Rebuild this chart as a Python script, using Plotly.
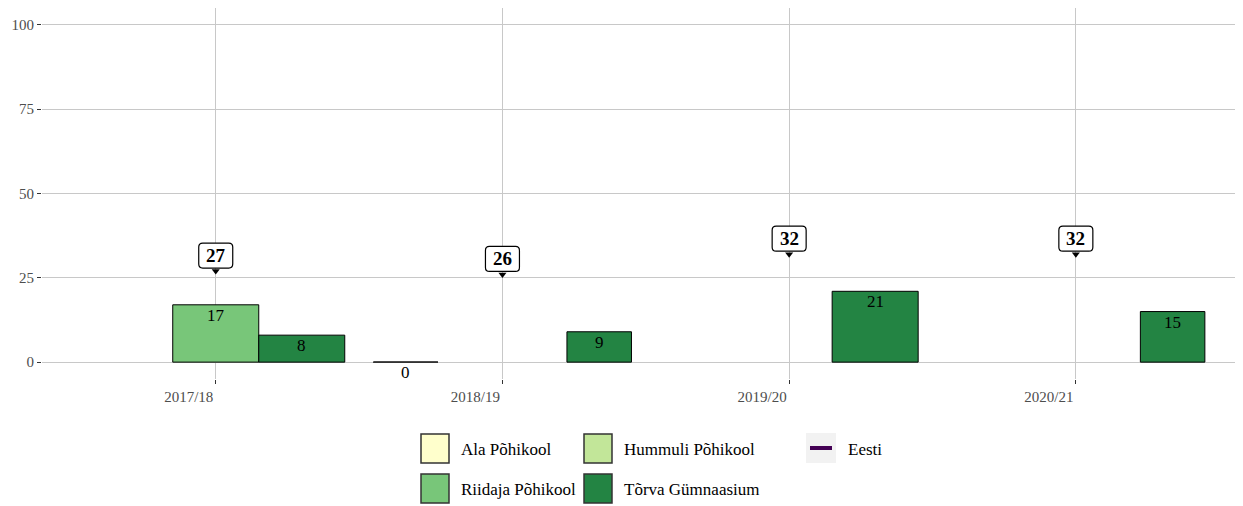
import math
import plotly.graph_objects as go

# ---- data ----
years = ["2017/18", "2018/19", "2019/20", "2020/21"]
NA = float("nan")  # row present but no value (occupies a dodge slot)
# None = no row for that year
ala = [None, 0, None, NA]
hummuli = [NA, NA, NA, NA]
riidaja = [17, NA, NA, NA]
torva = [8, 9, 21, 15]
eesti = [27, 26, 32, 32]

series_names = ["Ala Põhikool", "Hummuli Põhikool", "Riidaja Põhikool", "Tõrva Gümnaasium"]
series_values = [ala, hummuli, riidaja, torva]
series_colors = ["#FFFFCC", "#C2E699", "#78C679", "#238443"]
eesti_color = "#440154"

FONT = "Liberation Serif, Times New Roman, serif"
OFF = 8  # page body margin
W, H = 1243 - OFF, 506 - OFF
ML, MR, MT, MB = 42 - OFF, 0, 0, 127
PW, PH = W - ML - MR, H - MT - MB

fig = go.Figure()

dodge = 0.9
annotations = []
shapes = []
for s, (name, vals, col) in enumerate(zip(series_names, series_values, series_colors)):
    xs, ys, ws = [], [], []
    for j in range(len(years)):
        slots = [k for k in range(len(series_values)) if series_values[k][j] is not None]
        v = vals[j]
        if v is None or (isinstance(v, float) and math.isnan(v)):
            continue
        n = len(slots)
        k = slots.index(s)
        w = dodge / n
        cx = j - dodge / 2 + (k + 0.5) * w
        xs.append(cx); ys.append(v); ws.append(w)
        annotations.append(dict(x=cx, y=v, xref="x", yref="y", text=str(v), showarrow=False,
                                yanchor="top", yshift=1, font=dict(family=FONT, size=17, color="black")))
        if v == 0:
            # zero-height bar drawn as its outline
            fig.add_trace(go.Scatter(x=[cx - w / 2, cx + w / 2], y=[v, v], mode="lines",
                                     line=dict(color="#333333", width=1.5), showlegend=False,
                                     hoverinfo="skip"))
    fig.add_trace(go.Bar(x=xs, y=ys, width=ws, name=name,
                         marker=dict(color=col, line=dict(color="black", width=1)),
                         showlegend=False))

# Eesti markers and labels (rounded label boxes)
fig.add_trace(go.Scatter(x=list(range(len(years))), y=eesti, mode="markers", name="Eesti",
                         marker=dict(symbol="triangle-down", size=7, color="black"),
                         showlegend=False))

def rounded_box_path(x0, x1, y0, y1, r):
    return (f"M{x0 + r},{y0} L{x1 - r},{y0} Q{x1},{y0} {x1},{y0 + r} "
            f"L{x1},{y1 - r} Q{x1},{y1} {x1 - r},{y1} L{x0 + r},{y1} "
            f"Q{x0},{y1} {x0},{y1 - r} L{x0},{y0 + r} Q{x0},{y0} {x0 + r},{y0} Z")

for j, v in enumerate(eesti):
    shapes.append(dict(type="path", xref="x", yref="y", xsizemode="pixel", ysizemode="pixel",
                       xanchor=j, yanchor=v, path=rounded_box_path(-17, 17, 3, 28, 4),
                       fillcolor="white", line=dict(color="black", width=1.2), layer="above"))
    annotations.append(dict(x=j, y=v, xref="x", yref="y", text="<b>%d</b>" % v, showarrow=False,
                            yanchor="middle", yshift=15.5,
                            font=dict(family=FONT, size=19, color="black")))

# ---- manual legend (coordinates in reference page pixels) ----
def px(x):
    return (x - OFF - ML) / PW

def py(y):
    return (H - MB - (y - OFF)) / PH

legend_items = [
    (421, 434, series_names[0], series_colors[0]),
    (584, 434, series_names[1], series_colors[1]),
    (421, 474, series_names[2], series_colors[2]),
    (584, 474, series_names[3], series_colors[3]),
]
for x0, y0, name, col in legend_items:
    shapes.append(dict(type="rect", xref="paper", yref="paper", x0=px(x0), x1=px(x0 + 28),
                       y0=py(y0 + 29), y1=py(y0), fillcolor=col, line=dict(color="#333333", width=1.5)))
    annotations.append(dict(x=px(x0 + 38), y=py(y0 + 15), xref="paper", yref="paper", text=name,
                            showarrow=False, xanchor="left", yanchor="middle",
                            font=dict(family=FONT, size=17, color="black")))
# Eesti key
shapes.append(dict(type="rect", xref="paper", yref="paper", x0=px(806), x1=px(836), y0=py(463), y1=py(433),
                   fillcolor="#F2F2F2", line=dict(width=0)))
shapes.append(dict(type="line", xref="paper", yref="paper", x0=px(810), x1=px(832), y0=py(448), y1=py(448),
                   line=dict(color=eesti_color, width=4)))
annotations.append(dict(x=px(846), y=py(449), xref="paper", yref="paper", text="Eesti", showarrow=False,
                        xanchor="left", yanchor="middle", font=dict(family=FONT, size=17, color="black")))

fig.update_layout(
    width=W, height=H,
    margin=dict(l=ML, r=MR, t=MT, b=MB),
    barmode="overlay",
    plot_bgcolor="white", paper_bgcolor="white",
    showlegend=False,
    annotations=annotations,
    shapes=shapes,
    font=dict(family=FONT, color="#4D4D4D"),
    xaxis=dict(range=[-0.606, 3.583], tickmode="array", tickvals=list(range(len(years))),
               ticktext=years, showgrid=True, gridcolor="#C8C8C8", gridwidth=1, zeroline=False,
               ticks="outside", ticklen=4, tickcolor="#333333", ticklabelshift=-27,
               tickfont=dict(family=FONT, size=15, color="#4D4D4D"), showline=False),
    yaxis=dict(range=[-5, 105], tickvals=[0, 25, 50, 75, 100], showgrid=True, gridcolor="#C8C8C8",
               gridwidth=1, zeroline=False, ticks="outside", ticklen=4, tickcolor="#333333",
               tickfont=dict(family=FONT, size=15, color="#4D4D4D"), showline=False),
)

fig.write_html("out.html")
